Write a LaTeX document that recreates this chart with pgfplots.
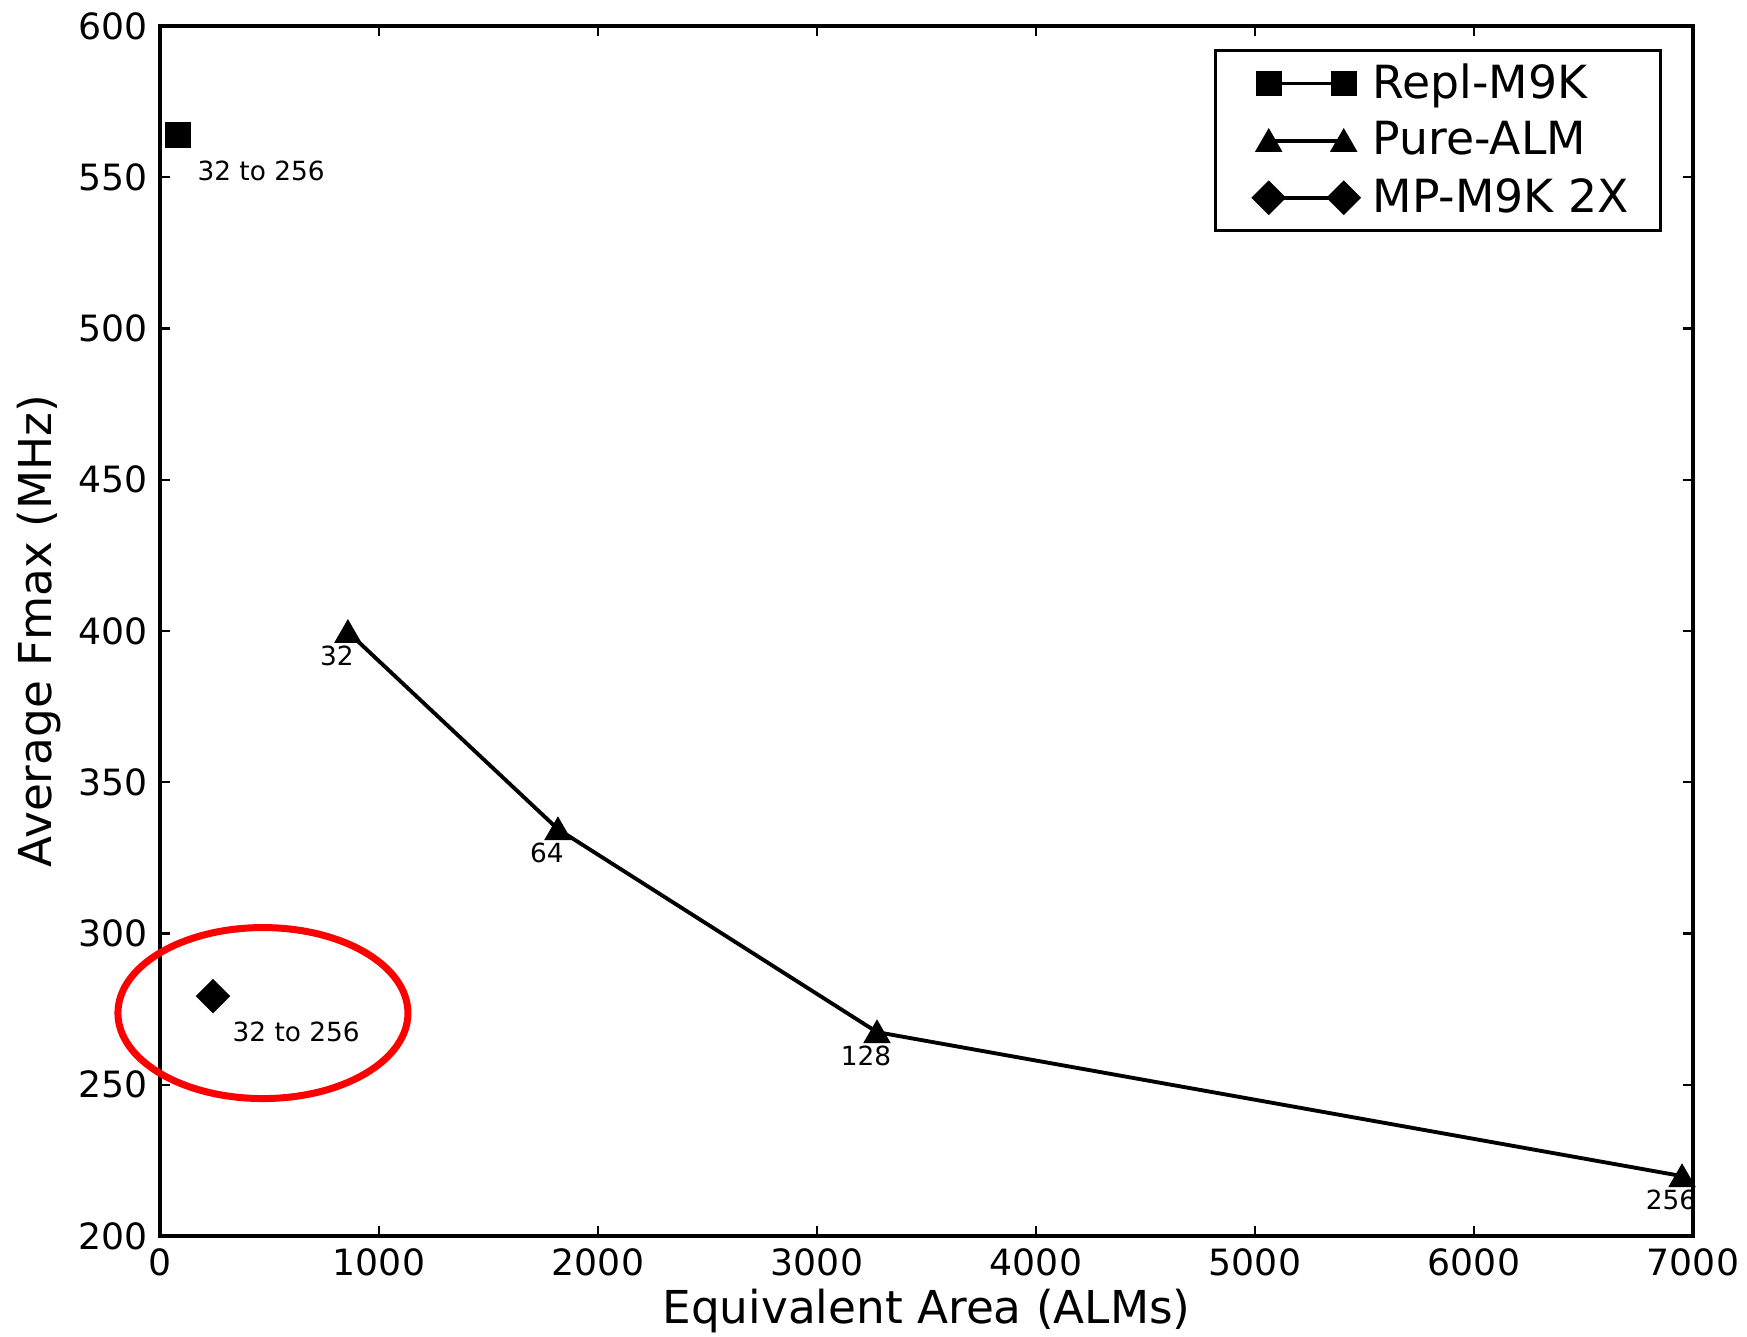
\documentclass[border=0pt]{standalone}
\usepackage{fontspec}
\setmainfont{DejaVu Sans}
\usepackage{pgfplots}
\pgfplotsset{compat=1.18}
\begin{document}
\begin{tikzpicture}
\useasboundingbox (-16mm,-10mm) rectangle (158.7mm,123.6mm);
\begin{axis}[
    scale only axis,
    width=153.3mm,
    height=121mm,
    xmin=0, xmax=7000,
    ymin=200, ymax=600,
    xtick={0,1000,...,7000},
    ytick={200,250,...,600},
    tick align=inside,
    major tick length=1mm,
    axis line style={line width=0.95pt},
    tick style={line width=0.7pt, black},
    /pgf/number format/assume math mode=true,
    /pgf/number format/set thousands separator={},
    tick label style={font=\fontsize{10.3}{12}\selectfont},
    xlabel={Equivalent Area (ALMs)},
    ylabel={Average Fmax (MHz)},
    every axis x label/.style={at={(axis description cs:0.5,-0.062)}, anchor=center, font=\fontsize{12.9}{15}\selectfont},
    every axis y label/.style={at={(axis description cs:-0.0789,0.5)}, anchor=center, rotate=90, font=\fontsize{12.9}{15}\selectfont},
    clip=false,
    legend style={at={(axis description cs:0.9798,0.981)}, anchor=north east,
        draw=black, line width=0.85pt, font=\fontsize{13}{15}\selectfont,
        inner xsep=2.5mm, inner ysep=0.6mm, row sep=0.4mm},
    legend cell align=left,
    legend image code/.code={\path (-2.6mm,0mm) (9.5mm,0mm);
        \draw[#1] plot coordinates {(0mm,0mm) (7.5mm,0mm)};},
]
% Repl-M9K
\addplot[black, line width=1.1pt, mark=square*, mark size=1.1mm,
    nodes near coords, point meta=explicit symbolic,
    every node near coord/.style={anchor=west, xshift=0.6mm, yshift=-3.6mm, font=\fontsize{7.5}{9}\selectfont}]
    coordinates {(82,564)[32 to 256]};
\addlegendentry{Repl-M9K}
% Pure-ALM
\addplot[black, line width=1.1pt, mark=triangle*, mark size=1.2mm, mark options={yshift=-0.3mm},
    nodes near coords, point meta=explicit symbolic,
    every node near coord/.style={anchor=center, xshift=-1.1mm, yshift=-2.1mm, font=\fontsize{7.5}{9}\selectfont}]
    coordinates {(858,399.7)[32] (1817,334.5)[64] (3274,267.4)[128] (6950,219.8)[256]};
\addlegendentry{Pure-ALM}
% MP-M9K 2X
\addplot[black, line width=1.1pt, mark=square*, mark size=1.03mm, mark options={rotate=45},
    nodes near coords, point meta=explicit symbolic,
    every node near coord/.style={anchor=west, xshift=0.6mm, yshift=-3.6mm, font=\fontsize{7.5}{9}\selectfont}]
    coordinates {(242,279.3)[32 to 256]};
\addlegendentry{MP-M9K 2X}
\draw[red, line width=0.7mm] (axis cs:470,273.7) ellipse [x radius=14.5mm, y radius=8.55mm];
\end{axis}
\end{tikzpicture}
\end{document}
